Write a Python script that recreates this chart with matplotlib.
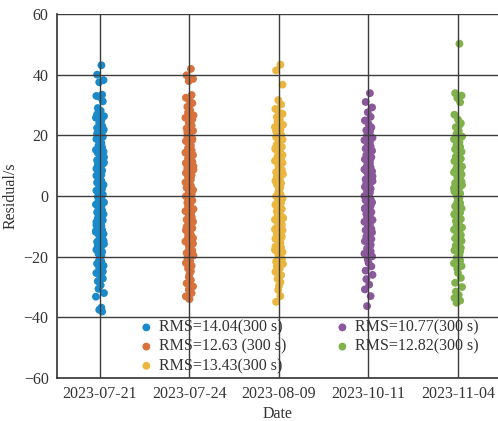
import matplotlib
matplotlib.use("Agg")
import matplotlib.pyplot as plt

dates = ["2023-07-21", "2023-07-24", "2023-08-09", "2023-10-11", "2023-11-04"]
labels = ["RMS=14.04(300 s)", "RMS=12.63 (300 s)", "RMS=13.43(300 s)",
          "RMS=10.77(300 s)", "RMS=12.82(300 s)"]
colors = ["#1A8ACB", "#D8733E", "#EBB640", "#8B589C", "#80B24C"]

res_0721 = [43.1, 40.0, 38.2, 37.5, 33.4, 33.0, 32.6, 31.2, 29.0, 28.1, 27.5, 26.3, 25.8,
            24.9, 24.0, 23.1, 22.4, 21.7, 20.9, 20.2, 19.5, 18.8, 18.0, 17.3, 16.7, 16.0,
            15.2, 14.6, 13.9, 13.1, 12.4, 11.8, 11.0, 10.3, 9.7, 9.0, 8.4, 7.7, 7.0, 6.3,
            5.7, 5.0, 4.4, 3.7, 3.0, 2.4, 1.8, 1.1, 0.5, -0.2, -0.8, -1.5, -2.1, -2.8,
            -3.4, -4.1, -4.7, -5.4, -6.0, -6.7, -7.3, -8.0, -8.6, -9.3, -9.9, -10.6,
            -11.2, -11.9, -12.5, -13.2, -13.8, -14.5, -15.1, -15.8, -16.4, -17.1, -17.7,
            -18.4, -19.0, -19.7, -20.3, -21.0, -21.6, -22.3, -23.0, -23.8, -24.5, -25.4,
            -26.3, -27.2, -28.1, -29.4, -30.6, -32.0, -33.2, -36.8, -37.5, -38.1,
            26.9, 22.0, 18.4, 14.2, 10.6, 6.7, 3.3, -0.5, -4.4, -7.7, -11.5, -14.8, -18.0,
            -21.3, -24.9, 20.5, 12.8, 4.7, -2.5, -9.6, -16.1, -22.7]
res_0724 = [41.9, 39.8, 38.6, 37.9, 33.3, 32.4, 31.5, 30.6, 29.4, 28.3, 27.5, 26.6, 25.8,
            24.9, 24.1, 23.2, 22.3, 21.5, 20.6, 19.8, 18.9, 18.1, 17.4, 16.6, 15.8, 15.0,
            14.3, 13.5, 12.8, 12.0, 11.3, 10.5, 9.8, 9.1, 8.3, 7.6, 6.9, 6.2, 5.5, 4.8,
            4.1, 3.4, 2.7, 2.0, 1.3, 0.6, -0.1, -0.8, -1.5, -2.2, -2.9, -3.6, -4.3, -5.0,
            -5.7, -6.4, -7.1, -7.8, -8.5, -9.2, -9.9, -10.6, -11.3, -12.0, -12.8, -13.5,
            -14.2, -15.0, -15.7, -16.5, -17.2, -18.0, -18.8, -19.6, -20.4, -21.3, -22.1,
            -23.0, -23.9, -24.8, -25.8, -26.7, -27.7, -28.8, -29.8, -30.9, -32.0, -33.1,
            -34.0, 25.3, 21.0, 16.9, 12.4, 8.7, 4.5, 0.2, -3.2, -6.8, -10.2, -13.9, -17.6,
            -21.7, 18.5, 10.9, 2.3, -5.3, -12.3, -19.2]
res_0809 = [43.3, 41.4, 36.7, 31.6, 30.2, 28.7, 27.6, 26.9, 26.0, 25.1, 24.4, 23.5, 22.7,
            21.9, 21.0, 20.2, 19.4, 18.6, 17.8, 17.0, 16.2, 15.4, 14.7, 13.9, 13.1, 12.4,
            11.6, 10.9, 10.1, 9.4, 8.6, 7.9, 7.2, 6.4, 5.7, 5.0, 4.2, 3.5, 2.8, 2.0, 1.3,
            0.6, -0.1, -0.8, -1.5, -2.2, -2.9, -3.6, -4.3, -5.0, -5.7, -6.4, -7.1, -7.8,
            -8.5, -9.2, -9.9, -10.6, -11.3, -12.0, -12.7, -13.4, -14.1, -14.8, -15.6,
            -16.3, -17.0, -17.8, -18.5, -19.3, -20.0, -20.8, -21.6, -22.4, -23.2, -24.0,
            -25.0, -26.1, -27.3, -28.4, -29.6, -31.0, -33.0, -34.9, 27.1, 23.9, 19.8,
            15.8, 11.2, 7.5, 3.9, 0.0, -3.9, -7.4, -11.0, -14.5, -18.1, -21.2, 21.4, 13.5,
            5.3, -2.5, -9.5, -16.7]
res_1011 = [33.9, 31.0, 29.2, 27.6, 26.1, 24.9, 23.8, 22.6, 21.7, 20.8, 20.0, 19.2, 18.4,
            17.7, 17.0, 16.3, 15.6, 14.9, 14.2, 13.5, 12.8, 12.1, 11.4, 10.7, 10.1, 9.4,
            8.8, 8.1, 7.5, 6.8, 6.2, 5.5, 4.9, 4.3, 3.6, 3.0, 2.4, 1.7, 1.1, 0.5, -0.2,
            -0.8, -1.4, -2.1, -2.7, -3.3, -4.0, -4.6, -5.3, -5.9, -6.6, -7.2, -7.9, -8.5,
            -9.2, -9.9, -10.6, -11.3, -12.0, -12.7, -13.4, -14.2, -14.9, -15.7, -16.5,
            -17.3, -18.2, -19.0, -19.9, -20.9, -22.0, -23.2, -24.6, -26.0, -27.4, -29.2,
            -30.8, -33.0, -36.3, 21.2, 18.8, 15.3, 11.8, 8.4, 5.2, 2.0, -1.1, -4.3, -7.5,
            -10.9, -14.5, -18.6, 13.0, 6.5, 0.0, -6.1, -12.3, -16.1]
res_1104 = [50.2, 33.9, 33.1, 32.3, 30.9, 26.8, 25.2, 24.0, 22.7, 21.5, 20.5, 19.6, 18.7,
            17.8, 17.0, 16.2, 15.4, 14.6, 13.8, 13.0, 12.3, 11.5, 10.8, 10.0, 9.3, 8.6,
            7.8, 7.1, 6.4, 5.7, 5.0, 4.3, 3.6, 2.9, 2.2, 1.5, 0.8, 0.1, -0.6, -1.3, -2.0,
            -2.7, -3.4, -4.1, -4.8, -5.5, -6.2, -6.9, -7.6, -8.3, -9.0, -9.7, -10.4,
            -11.1, -11.8, -12.5, -13.3, -14.0, -14.8, -15.5, -16.3, -17.1, -17.9, -18.7,
            -19.5, -20.4, -21.3, -22.2, -23.1, -24.0, -25.4, -27.0, -28.6, -30.0, -31.5,
            -32.6, -33.6, -34.5, -35.2, 23.4, 19.1, 15.0, 11.9, 8.2, 4.6, 1.1, -2.3, -5.9,
            -9.3, -12.9, -16.7, -20.0, 16.8, 9.7, 2.6, -4.4, -11.5, -18.3]
residuals = [res_0721, res_0724, res_0809, res_1011, res_1104]

# small horizontal spread of observations inside each date strip (in category units)
jitter = [0.016, -0.032, 0.04, -0.008, 0.024, -0.04, 0.0, 0.032, -0.024, 0.008,
          -0.016, 0.045, -0.045, 0.016, -0.008, 0.024, -0.032, 0.04, 0.0, -0.024,
          0.032, -0.04, 0.008, 0.016, -0.016, 0.024, -0.045, 0.04, -0.008, 0.0, 0.032,
          -0.032, 0.045, -0.024, 0.008, -0.04, 0.024, -0.016, 0.016, 0.0, -0.008]

plt.rcParams["font.family"] = ["Liberation Serif", "DejaVu Serif"]
fig = plt.figure(figsize=(4.98, 4.21), dpi=100)
ax = fig.add_axes([57 / 498, 1 - 378 / 421, 441 / 498, 364 / 421])

for i, (vals, lab, col) in enumerate(zip(residuals, labels, colors)):
    xs = [i + 1 + jitter[k % len(jitter)] for k in range(len(vals))]
    ax.scatter(xs, vals, s=32, color=col, edgecolors="none", label=lab, zorder=2)

ax.set_xlim(0.52, 5.447)
ax.set_ylim(-60, 60)
ax.set_xticks(range(1, len(dates) + 1))
ax.set_xticklabels(dates)
ax.set_yticks([-60, -40, -20, 0, 20, 40, 60])
ax.set_yticklabels(["\u221260", "\u221240", "\u221220", "0", "20", "40", "60"])
ax.grid(True, color="#3c3c3c", linewidth=1.0)
ax.set_axisbelow(False)
ax.tick_params(length=0, labelsize=11.5, labelcolor="#333333", pad=6)
for side in ["top", "right"]:
    ax.spines[side].set_visible(False)
for side in ["left", "bottom"]:
    ax.spines[side].set_color("#333333")
    ax.spines[side].set_linewidth(1.2)
ax.set_xlabel("Date", fontsize=11.5, color="#333333", labelpad=3)
ax.set_ylabel("Residual/s", fontsize=11.5, color="#333333", labelpad=4)

leg = ax.legend(ncol=2, loc="upper left", bbox_to_anchor=(0.17, 0.178), frameon=False,
                fontsize=11.5, handletextpad=0.3, columnspacing=3.0, labelspacing=0.2,
                borderaxespad=0, markerscale=1.0, handlelength=1.0)
for t in leg.get_texts():
    t.set_color("#333333")

fig.savefig("out.png", dpi=100)
